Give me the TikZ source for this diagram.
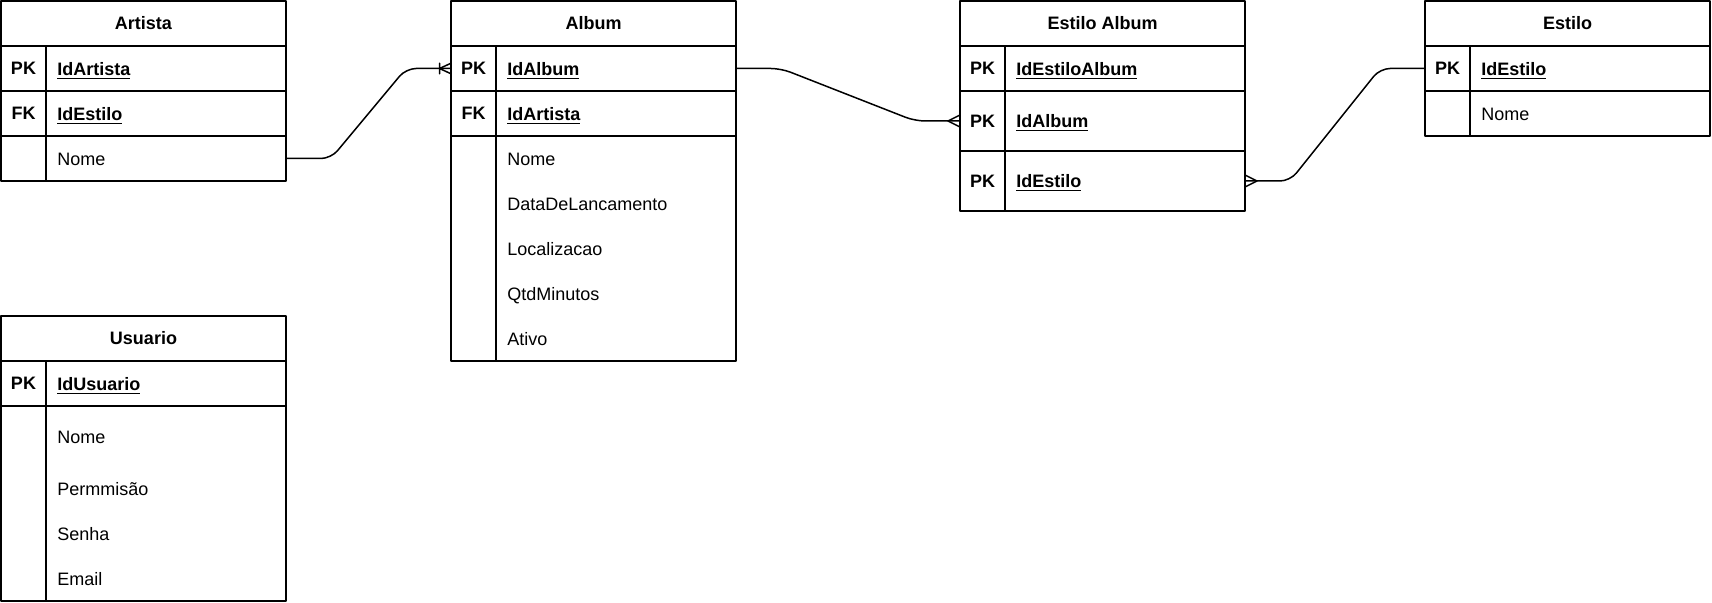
\documentclass[tikz,border=0pt]{standalone}
\usepackage{fontspec}
\setmainfont{Liberation Sans}
\usetikzlibrary{positioning}

\begin{document}
\begin{tikzpicture}[x=0.5pt,y=-0.5pt,line join=round,line cap=round,font=\fontsize{9pt}{11pt}\selectfont,
	tab/.style={draw,line width=0.75pt,minimum width=142.5pt,minimum height=22.5pt,inner sep=0pt,outer sep=0pt},
	titulo/.style={tab,anchor=north west,font=\fontsize{9pt}{11pt}\selectfont\bfseries},
	chave/.style={font=\fontsize{9pt}{11pt}\selectfont\bfseries,inner sep=0pt},
	campo/.style={anchor=base west,yshift=-3.3pt,inner sep=0pt},
	liga/.style={line width=0.75pt,rounded corners=5pt}]
	\useasboundingbox (0,0) rectangle (1712,603);
	\def\k{22.5pt} % largura da coluna de chave
	\def\c{28pt} % inicio do texto do campo
	% tabela Artista
	\node[titulo] (artista) at (1,1) {Artista};
	\node[tab,below=0pt of artista] (artPK) {};
	\node[tab,below=0pt of artPK] (artFK) {};
	\node[tab,below=0pt of artFK] (artNome) {};
	\draw[line width=0.75pt] ([xshift=\k]artPK.north west)--([xshift=\k]artNome.south west);
	\node[chave] (artPKk) at ([xshift=11.25pt]artPK.west) {PK};
	\node[chave] (artFKk) at ([xshift=11.25pt]artFK.west) {FK};
	\node[campo,font=\fontsize{9pt}{11pt}\selectfont\bfseries] (artPKc) at ([xshift=\c]artPK.west) {\underline{IdArtista}};
	\node[campo,font=\fontsize{9pt}{11pt}\selectfont\bfseries] (artFKc) at ([xshift=\c]artFK.west) {\underline{IdEstilo}};
	\node[campo] (artNomec) at ([xshift=\c]artNome.west) {Nome};
	% tabela Album
	\node[titulo] (album) at (451,1) {Album};
	\node[tab,below=0pt of album] (albPK) {};
	\node[tab,below=0pt of albPK] (albFK) {};
	\node[tab,below=0pt of albFK,minimum height=112.5pt] (albAtrib) {};
	\draw[line width=0.75pt] ([xshift=\k]albPK.north west)--([xshift=\k]albAtrib.south west);
	\node[chave] (albPKk) at ([xshift=11.25pt]albPK.west) {PK};
	\node[chave] (albFKk) at ([xshift=11.25pt]albFK.west) {FK};
	\node[campo,font=\fontsize{9pt}{11pt}\selectfont\bfseries] (albPKc) at ([xshift=\c]albPK.west) {\underline{IdAlbum}};
	\node[campo,font=\fontsize{9pt}{11pt}\selectfont\bfseries] (albFKc) at ([xshift=\c]albFK.west) {\underline{IdArtista}};
	\foreach \t [count=\i] in {Nome,DataDeLancamento,Localizacao,QtdMinutos,Ativo}
		\node[campo] (albA\i) at ([xshift=\c,yshift={11.25pt-22.5pt*\i}]albAtrib.north west) {\t};
	% tabela Estilo Album
	\node[titulo] (estAlb) at (960,1) {Estilo Album};
	\node[tab,below=0pt of estAlb] (eaPK) {};
	\node[tab,below=0pt of eaPK,minimum height=30pt] (eaAlb) {};
	\node[tab,below=0pt of eaAlb,minimum height=30pt] (eaEst) {};
	\draw[line width=0.75pt] ([xshift=\k]eaPK.north west)--([xshift=\k]eaEst.south west);
	\node[chave] (eaPKk) at ([xshift=11.25pt]eaPK.west) {PK};
	\node[chave] (eaAlbk) at ([xshift=11.25pt]eaAlb.west) {PK};
	\node[chave] (eaEstk) at ([xshift=11.25pt]eaEst.west) {PK};
	\node[campo,font=\fontsize{9pt}{11pt}\selectfont\bfseries] (eaPKc) at ([xshift=\c]eaPK.west) {\underline{IdEstiloAlbum}};
	\node[campo,font=\fontsize{9pt}{11pt}\selectfont\bfseries] (eaAlbc) at ([xshift=\c]eaAlb.west) {\underline{IdAlbum}};
	\node[campo,font=\fontsize{9pt}{11pt}\selectfont\bfseries] (eaEstc) at ([xshift=\c]eaEst.west) {\underline{IdEstilo}};
	% tabela Estilo
	\node[titulo] (estilo) at (1425,1) {Estilo};
	\node[tab,below=0pt of estilo] (estPK) {};
	\node[tab,below=0pt of estPK] (estNome) {};
	\draw[line width=0.75pt] ([xshift=\k]estPK.north west)--([xshift=\k]estNome.south west);
	\node[chave] (estPKk) at ([xshift=11.25pt]estPK.west) {PK};
	\node[campo,font=\fontsize{9pt}{11pt}\selectfont\bfseries] (estPKc) at ([xshift=\c]estPK.west) {\underline{IdEstilo}};
	\node[campo] (estNomec) at ([xshift=\c]estNome.west) {Nome};
	% tabela Usuario
	\node[titulo] (usuario) at (1,316) {Usuario};
	\node[tab,below=0pt of usuario] (usuPK) {};
	\node[tab,below=0pt of usuPK,minimum height=97.5pt] (usuAtrib) {};
	\draw[line width=0.75pt] ([xshift=\k]usuPK.north west)--([xshift=\k]usuAtrib.south west);
	\node[chave] (usuPKk) at ([xshift=11.25pt]usuPK.west) {PK};
	\node[campo,font=\fontsize{9pt}{11pt}\selectfont\bfseries] (usuPKc) at ([xshift=\c]usuPK.west) {\underline{IdUsuario}};
	\foreach \t/\d [count=\i] in {Nome/15.25,Permmisão/41.5,Senha/64,Email/86.5}
		\node[campo] (usuA\i) at ([xshift=\c,yshift=-\d pt]usuAtrib.north west) {\t};
	% ligacoes
	\draw[liga] (artNome.east)--++(45,0)--([xshift=-22.5pt]albPK.west)--(albPK.west);
	\draw[line width=0.75pt] ([xshift=-5.7pt]albPK.west)--([yshift=2.65pt]albPK.west) ([xshift=-5.7pt]albPK.west)--([yshift=-2.65pt]albPK.west)
		([xshift=-5.7pt,yshift=2.65pt]albPK.west)--([xshift=-5.7pt,yshift=-2.65pt]albPK.west);
	\draw[liga] (albPK.east)--++(45,0)--([xshift=-22.5pt]eaAlb.west)--(eaAlb.west);
	\draw[line width=0.75pt] ([xshift=-6pt]eaAlb.west)--([yshift=3pt]eaAlb.west) ([xshift=-6pt]eaAlb.west)--([yshift=-3pt]eaAlb.west);
	\draw[liga] (eaEst.east)--++(45,0)--([xshift=-22.5pt]estPK.west)--(estPK.west);
	\draw[line width=0.75pt] ([xshift=6pt]eaEst.east)--([yshift=3pt]eaEst.east) ([xshift=6pt]eaEst.east)--([yshift=-3pt]eaEst.east);
\end{tikzpicture}
\end{document}
